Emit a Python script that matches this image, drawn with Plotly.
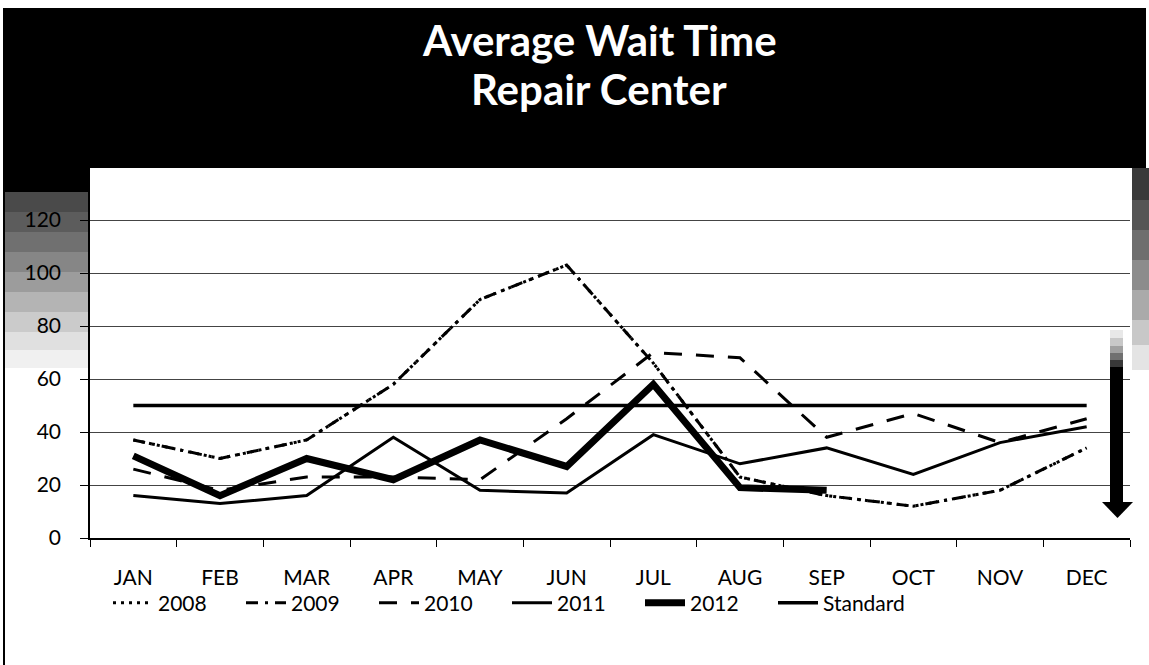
import plotly.graph_objects as go

months = ["JAN", "FEB", "MAR", "APR", "MAY", "JUN", "JUL", "AUG", "SEP", "OCT", "NOV", "DEC"]
y2008 = [37, 30, 37, 58, 90, 103, 66, 23, 16, 12, 18, 34]
y2009 = [37, 30, 37, 58, 90, 103, 66, 23, 16, 12, 18, 34]
y2010 = [26, 18, 23, 23, 22, 45, 70, 68, 38, 47, 36, 45]
y2011 = [16, 13, 16, 38, 18, 17, 39, 28, 34, 24, 36, 42]
y2012 = [31, 16, 30, 22, 37, 27, 58, 19, 18]
standard = [50] * 12
ytick_vals = [0, 20, 40, 60, 80, 100, 120]

FONT = "Lato"
W, H = 1149, 665
L, R, T, B = 90, 1130, 167, 538


def px(p):
    return (p - L) / (R - L)


def py(p):
    return (B - p) / (B - T)


fig = go.Figure()
fig.add_trace(go.Scatter(x=months, y=y2008, name="2008", mode="lines",
                         line=dict(color="black", width=3, dash="3px,5px")))
fig.add_trace(go.Scatter(x=months, y=y2009, name="2009", mode="lines",
                         line=dict(color="black", width=3, dash="12px,7px,3px,7px")))
fig.add_trace(go.Scatter(x=months, y=y2010, name="2010", mode="lines",
                         line=dict(color="black", width=3, dash="18px,14px")))
fig.add_trace(go.Scatter(x=months, y=y2011, name="2011", mode="lines",
                         line=dict(color="black", width=3)))
fig.add_trace(go.Scatter(x=months[:len(y2012)], y=y2012, name="2012", mode="lines",
                         line=dict(color="black", width=7)))
fig.add_trace(go.Scatter(x=months, y=standard, name="Standard", mode="lines",
                         line=dict(color="black", width=3.5)))

shapes = []


def rect(x0, y0, x1, y1, color, layer="below"):
    shapes.append(dict(type="rect", xref="paper", yref="paper",
                       x0=px(x0), x1=px(x1), y0=py(y1), y1=py(y0),
                       fillcolor=color, line=dict(width=0), layer=layer))


# black header band
rect(3, 8, 1146, 168, "black")
# left strip fading texture
rect(3, 168, 89, 192, "black")
grads = [("#4a4a4a", 192, 212), ("#5c5c5c", 212, 232), ("#707070", 232, 252),
         ("#868686", 252, 272), ("#9c9c9c", 272, 292), ("#b4b4b4", 292, 312),
         ("#cbcbcb", 312, 332), ("#e0e0e0", 332, 350), ("#f0f0f0", 350, 368)]
for c, a, b in grads:
    rect(3, a, 89, b, c)
# right strip fading texture
rgr = [("#3a3a3a", 168, 200), ("#555555", 200, 230), ("#6e6e6e", 230, 260),
       ("#8c8c8c", 260, 290), ("#aaaaaa", 290, 320), ("#c8c8c8", 320, 345),
       ("#e4e4e4", 345, 370)]
for c, a, b in rgr:
    rect(1132, a, 1149, b, c)
# left border
shapes.append(dict(type="line", xref="paper", yref="paper", x0=px(4), x1=px(4),
                   y0=py(8), y1=py(665), line=dict(color="black", width=2)))
# arrow shaft gradient
agr = [("#e8e8e8", 330, 338), ("#c8c8c8", 338, 346), ("#a0a0a0", 346, 353),
       ("#707070", 353, 360), ("#383838", 360, 367), ("black", 367, 503)]
for c, a, b in agr:
    rect(1110, a, 1123, b, c, layer="above")
shapes.append(dict(type="path", xref="paper", yref="paper",
                   path="M {} {} L {} {} L {} {} Z".format(px(1102), py(502), px(1133), py(502),
                                                         px(1117.5), py(518)),
                   fillcolor="black", line=dict(width=0), layer="above"))

annotations = [
    dict(text="<b>Average Wait Time</b>", x=px(599), y=py(40), xref="paper", yref="paper",
         showarrow=False, xanchor="center", yanchor="middle",
         font=dict(family=FONT, size=42, color="white")),
    dict(text="<b>Repair Center</b>", x=px(599), y=py(89), xref="paper", yref="paper",
         showarrow=False, xanchor="center", yanchor="middle",
         font=dict(family=FONT, size=42, color="white")),
]

fig.update_layout(
    width=W, height=H, autosize=False,
    margin=dict(l=L, r=W - R, t=T, b=H - B, pad=0),
    paper_bgcolor="white", plot_bgcolor="rgba(0,0,0,0)",
    font=dict(family=FONT, size=21, color="black"),
    shapes=shapes, annotations=annotations,
    showlegend=True,
    legend=dict(orientation="h", x=px(108), xanchor="left", y=py(603), yanchor="middle",
                font=dict(family=FONT, size=21, color="black"),
                bgcolor="rgba(0,0,0,0)", entrywidth=78, itemwidth=40),
    xaxis=dict(type="category", range=[-0.5, 11.5], showline=True, linecolor="black",
               linewidth=1.5, ticks="outside", tickson="boundaries", ticklen=7,
               tickcolor="black", showgrid=False, ticklabelstandoff=20,
               tickfont=dict(family=FONT, size=21, color="black")),
    yaxis=dict(range=[0, 140], tickvals=ytick_vals, showline=True, linecolor="black",
               linewidth=1.5, ticks="outside", ticklen=8, tickcolor="black",
               showgrid=True, gridcolor="#444", gridwidth=1, zeroline=False,
               ticklabelstandoff=15,
               tickfont=dict(family=FONT, size=21, color="black")),
)

fig.write_html("out.html", config={"displayModeBar": False},
               post_script="document.body.style.margin='0';document.body.style.overflow='hidden';")
